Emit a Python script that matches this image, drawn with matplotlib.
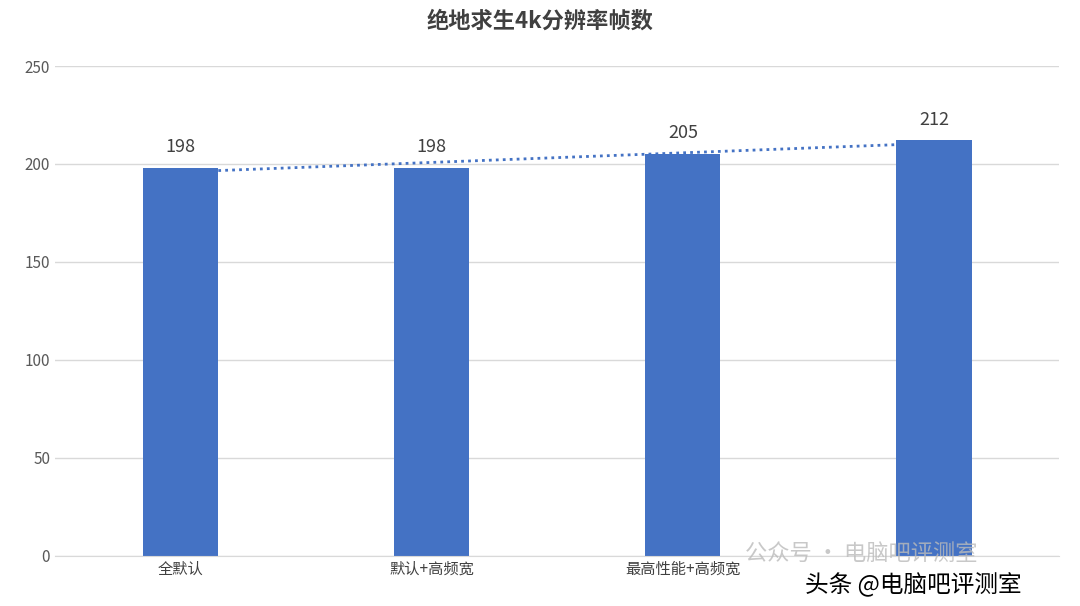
import matplotlib.pyplot as plt
import numpy as np

plt.rcParams['font.family'] = ['Noto Sans CJK SC', 'DejaVu Sans']

# the 4th category label is covered by the watermark in the source image
categories = ["全默认", "默认+高频宽", "最高性能+高频宽", ""]
values = [198, 198, 205, 212]
yticks = [0, 50, 100, 150, 200, 250]

bar_color = "#4472C4"

fig = plt.figure(figsize=(10.8, 6.06), dpi=100)
ax = fig.add_axes([0.051, 0.083, 0.93, 0.808])

x = np.arange(len(categories))
ax.bar(x, values, width=0.3, color=bar_color, zorder=2)
for xi, v in zip(x, values):
    ax.text(xi, v + 6, str(v), ha="center", va="bottom", fontsize=13, color="#404040")

# linear trendline
fit = np.poly1d(np.polyfit(x, values, 1))
xt = np.linspace(x[0] + 0.15, x[-1] - 0.15, 50)
ax.plot(xt, fit(xt), linestyle=(0, (1, 1.5)), color=bar_color, linewidth=2, zorder=3)

ax.set_xlim(-0.5, len(categories) - 0.5)
ax.set_ylim(0, 250)
ax.set_yticks(yticks)
ax.set_yticklabels([str(t) for t in yticks], fontsize=11, color="#595959")
ax.set_xticks(x)
ax.set_xticklabels(categories, fontsize=11, color="#404040")
ax.grid(axis="y", color="#D9D9D9", linewidth=1, zorder=0)
ax.tick_params(length=0)
for s in ["top", "right", "left"]:
    ax.spines[s].set_visible(False)
ax.spines["bottom"].set_color("#D9D9D9")

fig.text(0.5, 0.965, "绝地求生4k分辨率帧数", ha="center", va="center",
         fontsize=16, fontweight="bold", color="#404040")

# watermark
fig.text(0.69, 0.087, "公众号 · 电脑吧评测室", ha="left", va="center", fontsize=16,
         color="#BBBBBB", alpha=0.8)
fig.text(0.745, 0.035, "头条 @电脑吧评测室", ha="left", va="center", fontsize=17,
         color="black")

plt.savefig("out.png", dpi=100)
